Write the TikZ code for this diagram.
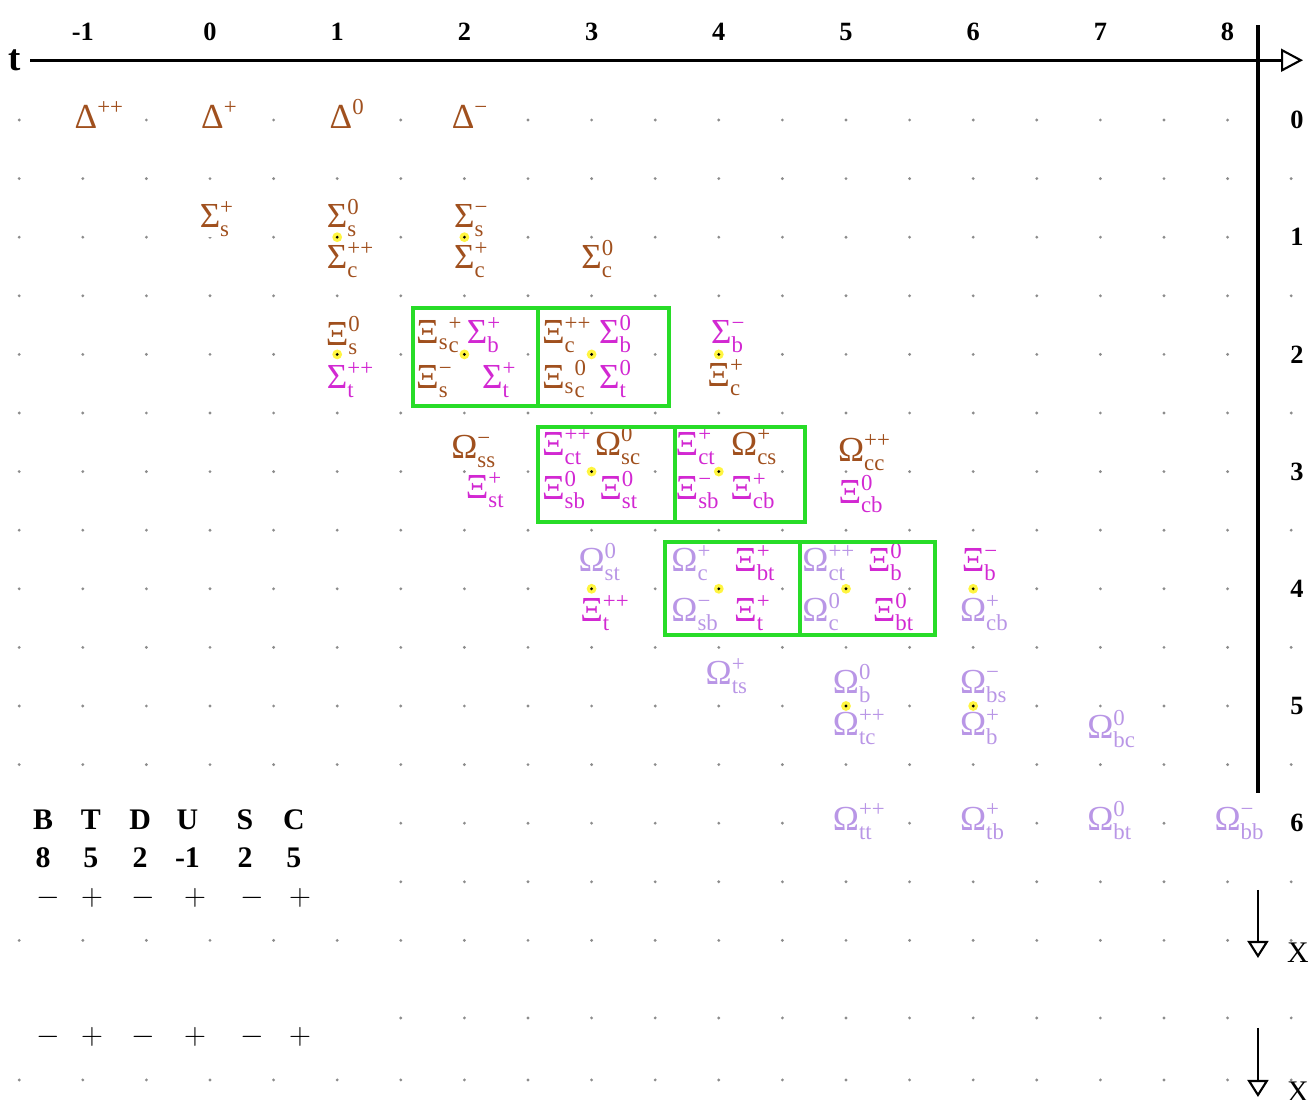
\documentclass[tikz,border=0pt]{standalone}
\usepackage{amsmath}
\usepackage{fontspec}
\setmainfont{Liberation Serif}
\usetikzlibrary{arrows.meta}
\DeclareMathSizes{20}{20}{13}{10}
\definecolor{hadbrown}{RGB}{160,80,30}
\definecolor{hadmag}{RGB}{210,40,210}
\definecolor{hadlav}{RGB}{185,150,230}
\definecolor{boxgreen}{RGB}{40,220,40}
\newcommand{\partfont}{\fontsize{20}{23}\selectfont}
\newcommand{\had}[3]{#1\rlap{$_{\text{#2}}^{\text{#3}}$}}
\newcommand{\hads}[2]{#1\rlap{$^{\text{#2}}$}}
\newcommand{\hadx}[4]{#1\rlap{$_{\text{#2}}{}_{\text{#3}}^{\text{#4}}$}}

\begin{document}
\begin{tikzpicture}[x=2.544cm, y=-2.344cm,
    part/.style={anchor=base, fill=white, inner sep=0pt, font=\partfont},
    brn/.style={part, text=hadbrown},
    mgt/.style={part, text=hadmag},
    lav/.style={part, text=hadlav},
    axislab/.style={font=\bfseries\fontsize{15}{18}\selectfont, fill=white, inner sep=1pt},
    tablab/.style={font=\bfseries\fontsize{17}{20}\selectfont, inner sep=0pt},
    sgn/.style={font=\fontsize{16}{19}\selectfont, inner sep=0pt},
    xlab/.style={font=\fontsize{17}{20}\selectfont, inner sep=0pt},
    griddot/.style={black!45},
    greenbox/.style={draw=boxgreen, line width=2.6pt},
    axis/.style={line width=1.8pt},
    downarr/.style={line width=1.6pt, -{Triangle[open, length=0.34cm, width=0.42cm, line width=1.2pt]}},
    yeldot/.style={fill=yellow!75!white}
  ]
    \useasboundingbox (-1.651,-1.024) rectangle (8.656,8.362);

    \foreach \r in {0,0.5,...,5.5,7,8.191}
      \foreach \c in {-1.5,-1,...,8.5}
        \fill[griddot] (\c,\r) circle (0.9pt);
    \foreach \r in {6,6.5,7.662}
      \foreach \c in {1.5,2,...,8.5}
        \fill[griddot] (\c,\r) circle (0.9pt);

    \node[font=\bfseries\fontsize{21}{24}\selectfont, inner sep=0pt] (tlab) at (-1.533,-0.51) {t};
    \coordinate (ttip) at (8.593,-0.51);
    \draw[axis, shorten <=5pt, -{Triangle[open, length=0.44cm, width=0.46cm, line width=1.2pt]}] (tlab) -- (ttip);
    \coordinate (vtop) at (8.239,-0.81);
    \coordinate (vbot) at (8.239,5.742);
    \draw[axis] (vtop) -- (vbot);

    \foreach \i in {-1,...,8}
      \node[axislab] (col\i) at (\i,-0.751) {\i};
    \foreach \i in {0,...,6}
      \node[axislab] (row\i) at (8.546,\i) {\i};

    \node[brn] (dpp) at (-0.975,0.07) {\hads{Δ}{++}};
    \node[brn] (dp) at (0.02,0.07) {\hads{Δ}{+}};
    \node[brn] (dz) at (1.03,0.07) {\hads{Δ}{0}};
    \node[brn] (dm) at (1.99,0.07) {\hads{Δ}{−}};

    \node[brn] (scpp) at (1,1.27) {\had{Σ}{c}{++}};
    \node[brn] (scp) at (2,1.27) {\had{Σ}{c}{+}};
    \node[brn] (scz) at (3,1.27) {\had{Σ}{c}{0}};
    \node[brn] (ssp) at (0,0.92) {\had{Σ}{s}{+}};
    \node[brn] (ssz) at (1,0.92) {\had{Σ}{s}{0}};
    \node[brn] (ssm) at (2,0.92) {\had{Σ}{s}{−}};

    \node[mgt] (stpp) at (1,2.29) {\had{Σ}{t}{++}};
    \node[brn] (xsz) at (1,1.92) {\had{Ξ}{s}{0}};
    \node[brn] (xscp) at (1.71,1.91) {\hadx{Ξ}{s}{c}{+}};
    \node[mgt] (sbp) at (2.10,1.91) {\had{Σ}{b}{+}};
    \node[brn] (xsm) at (1.71,2.29) {\had{Ξ}{s}{−}};
    \node[mgt] (stp) at (2.22,2.29) {\had{Σ}{t}{+}};
    \node[brn] (xcpp) at (2.70,1.91) {\had{Ξ}{c}{++}};
    \node[mgt] (sbz) at (3.14,1.91) {\had{Σ}{b}{0}};
    \node[brn] (xscz) at (2.70,2.29) {\hadx{Ξ}{s}{c}{0}};
    \node[mgt] (stz) at (3.14,2.29) {\had{Σ}{t}{0}};
    \node[brn] (xcp) at (4,2.27) {\had{Ξ}{c}{+}};
    \node[mgt] (sbm) at (4.02,1.91) {\had{Σ}{b}{−}};

    \node[mgt] (xstp) at (2.1,3.23) {\had{Ξ}{st}{+}};
    \node[brn] (oss) at (2,2.89) {\had{Ω}{ss}{−}};
    \node[mgt] (xctpp) at (2.70,2.86) {\had{Ξ}{ct}{++}};
    \node[brn] (oscz) at (3.13,2.86) {\had{Ω}{sc}{0}};
    \node[mgt] (xsbz) at (2.70,3.24) {\had{Ξ}{sb}{0}};
    \node[mgt] (xstz) at (3.15,3.24) {\had{Ξ}{st}{0}};
    \node[mgt] (xctp) at (3.75,2.86) {\had{Ξ}{ct}{+}};
    \node[brn] (ocsp) at (4.2,2.86) {\had{Ω}{cs}{+}};
    \node[mgt] (xsbm) at (3.75,3.24) {\had{Ξ}{sb}{−}};
    \node[mgt] (xcbp) at (4.18,3.24) {\had{Ξ}{cb}{+}};
    \node[mgt] (xcbz) at (5.03,3.27) {\had{Ξ}{cb}{0}};
    \node[brn] (occpp) at (5.04,2.91) {\had{Ω}{cc}{++}};

    \node[mgt] (xtpp) at (3,4.28) {\had{Ξ}{t}{++}};
    \node[lav] (ostz) at (3,3.855) {\had{Ω}{st}{0}};
    \node[lav] (ocp) at (3.73,3.855) {\had{Ω}{c}{+}};
    \node[mgt] (xbtp) at (4.21,3.855) {\had{Ξ}{bt}{+}};
    \node[lav] (osbm) at (3.73,4.28) {\had{Ω}{sb}{−}};
    \node[mgt] (xtp) at (4.21,4.28) {\had{Ξ}{t}{+}};
    \node[lav] (octpp) at (4.76,3.855) {\had{Ω}{ct}{++}};
    \node[mgt] (xbz) at (5.26,3.855) {\had{Ξ}{b}{0}};
    \node[lav] (ocz) at (4.76,4.28) {\had{Ω}{c}{0}};
    \node[mgt] (xbtz) at (5.3,4.28) {\had{Ξ}{bt}{0}};
    \node[lav] (ocbp) at (6,4.28) {\had{Ω}{cb}{+}};
    \node[mgt] (xbm) at (6,3.855) {\had{Ξ}{b}{−}};

    \node[lav] (otsp) at (4,4.82) {\had{Ω}{ts}{+}};
    \node[lav] (otcpp) at (5,5.25) {\had{Ω}{tc}{++}};
    \node[lav] (obz) at (5,4.89) {\had{Ω}{b}{0}};
    \node[lav] (obp) at (6,5.25) {\had{Ω}{b}{+}};
    \node[lav] (obsm) at (6,4.89) {\had{Ω}{bs}{−}};
    \node[lav] (obcz) at (7,5.28) {\had{Ω}{bc}{0}};

    \node[lav] (ottpp) at (5,6.06) {\had{Ω}{tt}{++}};
    \node[lav] (otbp) at (6,6.06) {\had{Ω}{tb}{+}};
    \node[lav] (obtz) at (7,6.06) {\had{Ω}{bt}{0}};
    \node[lav] (obbm) at (8,6.06) {\had{Ω}{bb}{−}};

    \draw[greenbox] (1.596,1.604) rectangle (3.608,2.44);
    \draw[greenbox] (2.579,1.604) -- (2.579,2.44);
    \draw[greenbox] (2.579,2.619) rectangle (4.678,3.43);
    \draw[greenbox] (3.656,2.619) -- (3.656,3.43);
    \draw[greenbox] (3.577,3.601) rectangle (5.700,4.394);
    \draw[greenbox] (4.638,3.601) -- (4.638,4.394);

    \foreach \c/\r in {1/1,2/1,1/2,2/2,3/2,4/2,3/3,4/3,3/4,4/4,5/4,6/4,5/5,6/5} {
      \fill[yeldot] (\c,\r) circle (2.8pt);
      \fill (\c,\r) circle (0.9pt);
    }

    \foreach \x/\l/\n [count=\k] in {-1.313/B/8, -0.936/T/5, -0.550/D/2, -0.177/U/-1, 0.275/S/2, 0.660/C/5} {
      \node[tablab] (let\k) at (\x,5.973) {\l};
      \node[tablab] (num\k) at (\x,6.297) {\n};
    }
    \foreach \x/\s [count=\k] in {-1.274/-, -0.928/+, -0.527/-, -0.118/+, 0.330/-, 0.708/+} {
      \node[sgn] (sgna\k) at (\x,6.638) {$\s$};
      \node[sgn] (sgnb\k) at (\x,7.824) {$\s$};
    }

    \coordinate (xa0) at (8.239,6.57);
    \coordinate (xa1) at (8.239,7.15);
    \draw[downarr] (xa0) -- (xa1);
    \node[xlab] (xlaba) at (8.553,7.108) {X};
    \coordinate (xb0) at (8.239,7.747);
    \coordinate (xb1) at (8.239,8.336);
    \draw[downarr] (xb0) -- (xb1);
    \node[xlab] (xlabb) at (8.553,8.294) {X};
\end{tikzpicture}
\end{document}
